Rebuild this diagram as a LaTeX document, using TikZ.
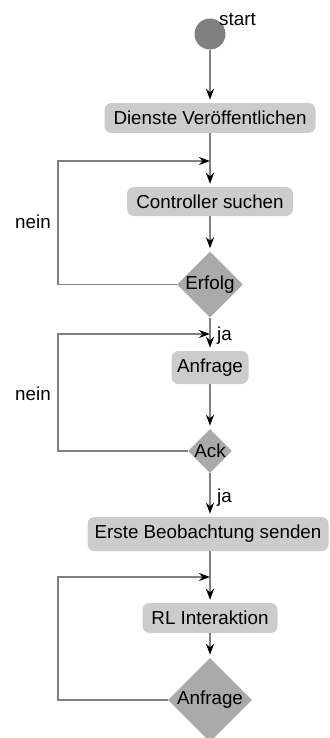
\documentclass[tikz,border=0pt]{standalone}
\usepackage{fontspec}
\setmainfont{Liberation Sans}
\usetikzlibrary{arrows.meta,shapes.geometric}
\definecolor{linegray}{RGB}{128,128,128}
\definecolor{boxgray}{RGB}{204,204,204}
\definecolor{decgray}{RGB}{170,170,170}
\definecolor{startgray}{RGB}{128,128,128}

\begin{document}
\begin{tikzpicture}[x=1pt,y=-1pt,
  every node/.style={font=\fontsize{18.8}{22}\selectfont, text=black},
  startnode/.style={circle, fill=startgray, minimum size=31pt, inner sep=0pt},
  action/.style={rectangle, rounded corners=7pt, fill=boxgray, inner sep=0pt, minimum height=30pt},
  decision/.style={diamond, fill=decgray, inner sep=0pt, aspect=1},
  tip/.style={-{Stealth[length=11pt,width=8pt,inset=3.5pt,color=black]}},
  flow/.style={draw=linegray, line width=1.7pt, tip, shorten >=3pt},
  back/.style={draw=linegray, line width=1.7pt, tip},
  tag/.style={anchor=base west, inner sep=0pt}]

\useasboundingbox (0,0) rectangle (329,738);

% start and first actions
\node[startnode] (s) at (210,34) {};
\node[tag] (ls) at (219,26) {start};
\node[action, minimum width=211pt] (b1) at (210,118) {Dienste Veröffentlichen};

% controller search loop
\coordinate (j1) at (210,161);
\coordinate (l1) at (58,161);
\node[action, minimum width=166pt, minimum height=29pt] (b2) at (210,201.5) {Controller suchen};
\node[decision, minimum size=66pt, label={[name=t1]center:Erfolg}] (d1) at (210,284.5) {};
\node[tag] (n1) at (15,228) {nein};

% request / acknowledge loop
\coordinate (j2) at (210,334);
\coordinate (l2) at (58,334);
\node[tag] (y1) at (217,340) {ja};
\node[action, minimum width=77pt, minimum height=33pt] (b3) at (210,367.5) {Anfrage};
\node[decision, minimum size=44pt, label={[name=t2]center:Ack}] (d2) at (210,451) {};
\node[tag] (n2) at (15,400) {nein};
\node[tag] (y2) at (217,502) {ja};

% observation and RL interaction loop
\node[action, minimum width=241pt, minimum height=34pt] (b4) at (208,534) {Erste Beobachtung senden};
\coordinate (j3) at (210,577);
\coordinate (l3) at (58,577);
\node[action, minimum width=135pt] (b5) at (210,618) {RL Interaktion};
\node[decision, minimum size=84pt, label={[name=t3]center:Anfrage}] (d3) at (210,700) {};

% main flow
\draw[flow] (s) -- (b1);
\draw[flow] (b1) -- (b2);
\draw[flow] (b2) -- (d1);
\draw[flow] (d1) -- (b3);
\draw[flow] (b3) -- (d2);
\draw[flow] (d2.south) -- (d2.south |- b4.north);
\draw[flow] (b4.south -| j3) -- (b5);
\draw[flow] (b5) -- (d3);

% feedback loops
\draw[back] (d1.west) -| (l1) -- (j1);
\draw[back] (d2.west) -| (l2) -- (j2);
\draw[back] (d3.west) -| (l3) -- (j3);
\end{tikzpicture}
\end{document}
